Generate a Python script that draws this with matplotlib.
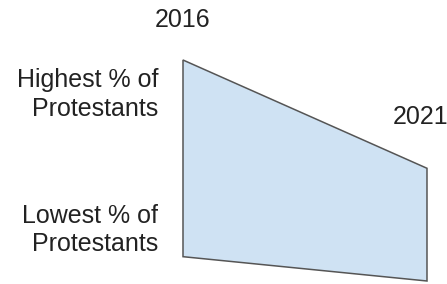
import matplotlib
matplotlib.use("Agg")
import matplotlib.pyplot as plt

years = [2016, 2021]
highest = [100, 51]
lowest = [11, 0]
year_labels = ["2016", "2021"]
row_labels = ["Highest % of\nProtestants", "Lowest % of\nProtestants"]

fig = plt.figure(figsize=(4.47, 2.84), dpi=100)
ax = fig.add_axes([0, 0, 1, 1])
ax.set_xlim(2012.25, 2021.41)
ax.set_ylim(-1.36, 127.15)
ax.axis("off")

xs = [years[0], years[1], years[1], years[0]]
ys = [highest[0], highest[1], lowest[1], lowest[0]]
ax.fill(xs, ys, facecolor="#cfe2f3", edgecolor="#555555", linewidth=1.1,
        joinstyle="miter")

font = dict(family="Liberation Sans", fontsize=18, color="#222222")
ax.text(years[0], 118.1, year_labels[0], ha="center", va="center", **font)
ax.text(2020.30, 74.2, year_labels[1], ha="left", va="center", **font)
ax.text(2015.49, 84.5, row_labels[0], ha="right", va="center",
        linespacing=1.25, **font)
ax.text(2015.49, 23.1, row_labels[1], ha="right", va="center",
        linespacing=1.25, **font)

fig.savefig("out.png", dpi=100)
